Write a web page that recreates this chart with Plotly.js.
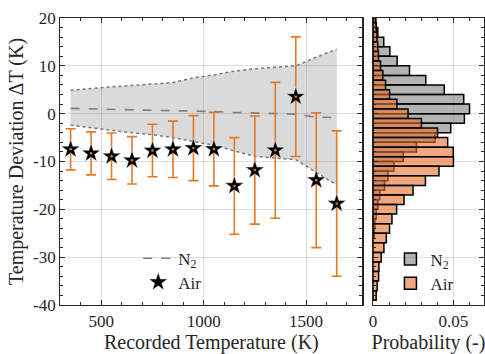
<!DOCTYPE html>
<html>
<head>
<meta charset="utf-8">
<script src="https://cdn.plot.ly/plotly-3.0.1.min.js"></script>
<style>html,body{margin:0;padding:0;background:#fff;}#chart{width:485px;height:354px;}</style>
</head>
<body>
<div id="chart"></div>
<script>
// ---- data ----
const temps = [350, 450, 550, 650, 750, 850, 950, 1050, 1150, 1250, 1350, 1450, 1550, 1650];
const airMean = [-7.45, -8.3, -8.9, -9.75, -7.7, -7.45, -7.2, -7.4, -15.1, -11.8, -7.65, 3.55, -13.9, -18.8];
const airErr = [4.3, 4.5, 4.85, 4.95, 5.5, 5.9, 6.8, 7.7, 10.1, 11.3, 14.2, 12.5, 14.1, 15.2];
const n2Mean = [1.1, 1.05, 0.95, 0.8, 0.7, 0.65, 0.6, 0.45, 0.25, 0.15, 0.05, -0.1, -0.75, -0.8];
const n2Upper = [4.9, 5.3, 5.6, 5.9, 6.2, 6.5, 7.5, 8.1, 8.9, 9.4, 9.7, 10.0, 11.8, 13.5];
const n2Lower = [-2.4, -3.0, -3.5, -4.0, -4.4, -5.0, -5.8, -6.6, -7.8, -8.9, -9.3, -9.6, -12.3, -14.9];

const n2BinCenters = [19, 17, 15, 13, 11, 9, 7, 5, 3, 1, -1, -3, -5, -7, -9, -11, -13, -15, -17, -19, -21, -23, -25];
const n2Prob = [0.0018, 0.003, 0.0067, 0.0105, 0.015, 0.0227, 0.0328, 0.0443, 0.0564, 0.06, 0.0568, 0.0483, 0.0385, 0.027, 0.0188, 0.013, 0.0093, 0.0072, 0.0042, 0.003, 0.002, 0.0012, 0.0008];
const airBinCenters = [20, 18, 16, 14, 12, 10, 8, 6, 4, 2, 0, -2, -4, -6, -8, -10, -12, -14, -16, -18, -20, -22, -24, -26, -28, -30, -32, -34, -36, -38];
const airProb = [0.0015, 0.002, 0.0025, 0.003, 0.0034, 0.0047, 0.0061, 0.0078, 0.0103, 0.0149, 0.0218, 0.0301, 0.0401, 0.0464, 0.0499, 0.05, 0.041, 0.0326, 0.0249, 0.0193, 0.0147, 0.0118, 0.0103, 0.0083, 0.0068, 0.0051, 0.0037, 0.0035, 0.0026, 0.002];

const yTickVals = [20, 10, 0, -10, -20, -30, -40];
const yTickText = ['20', '10', '0', '-10', '-20', '-30', '-40'];
const xTickVals = [500, 1000, 1500];
const x2TickVals = [0, 0.05];
const x2TickText = ['0', '0.05'];

// ---- styles ----
const FONT = 'Liberation Serif, Times New Roman, serif';
const AX = '#262626';
const ORANGE = '#E87722';
const GRID = 'rgba(0,0,0,0.13)';

const traces = [
  {x: temps, y: n2Upper, mode: 'lines', line: {color: 'rgb(120,120,120)', dash: 'dot', width: 1.5},
   showlegend: false, hoverinfo: 'skip', xaxis: 'x', yaxis: 'y'},
  {x: temps, y: n2Lower, mode: 'lines', line: {color: 'rgb(120,120,120)', dash: 'dot', width: 1.5},
   fill: 'tonexty', fillcolor: 'rgba(140,140,140,0.32)', showlegend: false, hoverinfo: 'skip', xaxis: 'x', yaxis: 'y'},
  {x: temps, y: n2Mean, mode: 'lines', name: 'N<sub>2</sub>', line: {color: 'rgb(128,128,128)', dash: 'dash', width: 1.6},
   legend: 'legend', xaxis: 'x', yaxis: 'y'},
  {x: temps, y: airMean, mode: 'markers', name: 'Air',
   error_y: {type: 'data', array: airErr, visible: true, color: ORANGE, thickness: 1.6, width: 5},
   marker: {symbol: 'star', size: 14, color: '#000', line: {color: 'rgba(255,255,255,0.7)', width: 0.6}},
   legend: 'legend3', xaxis: 'x', yaxis: 'y'},
  {x: temps, y: airMean, mode: 'markers', marker: {symbol: 'circle', size: 2.5, color: ORANGE},
   showlegend: false, hoverinfo: 'skip', xaxis: 'x', yaxis: 'y'},
  {type: 'bar', orientation: 'h', y: n2BinCenters, x: n2Prob, width: 2, name: 'N<sub>2</sub>',
   marker: {color: 'rgba(128,128,128,0.6)', line: {color: '#000', width: 1.5}},
   legend: 'legend2', xaxis: 'x2', yaxis: 'y2'},
  {type: 'bar', orientation: 'h', y: airBinCenters, x: airProb, width: 2, name: 'Air',
   marker: {color: 'rgba(232,110,40,0.6)', line: {color: '#000', width: 1.5}},
   legend: 'legend4', xaxis: 'x2', yaxis: 'y2'}
];

const axBase = {
  showline: true, linecolor: AX, linewidth: 1.3, mirror: 'allticks',
  ticks: 'inside', ticklen: 5, tickwidth: 1, tickcolor: AX,
  showgrid: true, gridcolor: GRID, gridwidth: 1, zeroline: false,
  tickfont: {family: FONT, size: 17, color: AX}
};

const legBase = {xanchor: 'left', yanchor: 'top', bgcolor: 'rgba(0,0,0,0)', traceorder: 'normal',
  font: {family: FONT, size: 17, color: AX}, itemwidth: 30, tracegroupgap: 0};

const layout = {
  width: 485, height: 354,
  margin: {l: 0, r: 0, t: 18, b: 49},
  paper_bgcolor: '#fff', plot_bgcolor: '#fff',
  font: {family: FONT, color: AX},
  barmode: 'overlay',
  xaxis: Object.assign({}, axBase, {
    domain: [0.1245, 0.747], range: [300, 1775],
    tickmode: 'array', tickvals: xTickVals,
    minor: {dtick: 100, tick0: 0, ticks: 'inside', ticklen: 3, tickcolor: AX, showgrid: false},
    title: {text: 'Recorded Temperature (K)', font: {family: FONT, size: 20, color: AX}, standoff: 4}
  }),
  yaxis: Object.assign({}, axBase, {
    range: [-40, 20], tickmode: 'array', tickvals: yTickVals, ticktext: yTickText,
    minor: {dtick: 2, tick0: 0, ticks: 'inside', ticklen: 3, tickcolor: AX, showgrid: false},
    title: {text: 'Temperature Deviation \u0394T (K)', font: {family: FONT, size: 20, color: AX}, standoff: 4}
  }),
  xaxis2: Object.assign({}, axBase, {
    domain: [0.769, 0.998], range: [0, 0.069], anchor: 'y2',
    tickmode: 'array', tickvals: x2TickVals, ticktext: x2TickText,
    minor: {dtick: 0.01, tick0: 0, ticks: 'inside', ticklen: 3, tickcolor: AX, showgrid: false},
    title: {text: 'Probability (-)', font: {family: FONT, size: 20, color: AX}, standoff: 4}
  }),
  yaxis2: Object.assign({}, axBase, {
    range: [-40, 20], anchor: 'x2', tickmode: 'array', tickvals: yTickVals, showticklabels: false,
    minor: {dtick: 2, tick0: 0, ticks: 'inside', ticklen: 3, tickcolor: AX, showgrid: false}
  }),
  legend: Object.assign({}, legBase, {x: 0.285, y: 0.224}),
  legend3: Object.assign({}, legBase, {x: 0.285, y: 0.141}),
  legend2: Object.assign({}, legBase, {x: 0.805, y: 0.221}),
  legend4: Object.assign({}, legBase, {x: 0.805, y: 0.137})
};

Plotly.newPlot('chart', traces, layout, {displayModeBar: false, staticPlot: true});
</script>
</body>
</html>
